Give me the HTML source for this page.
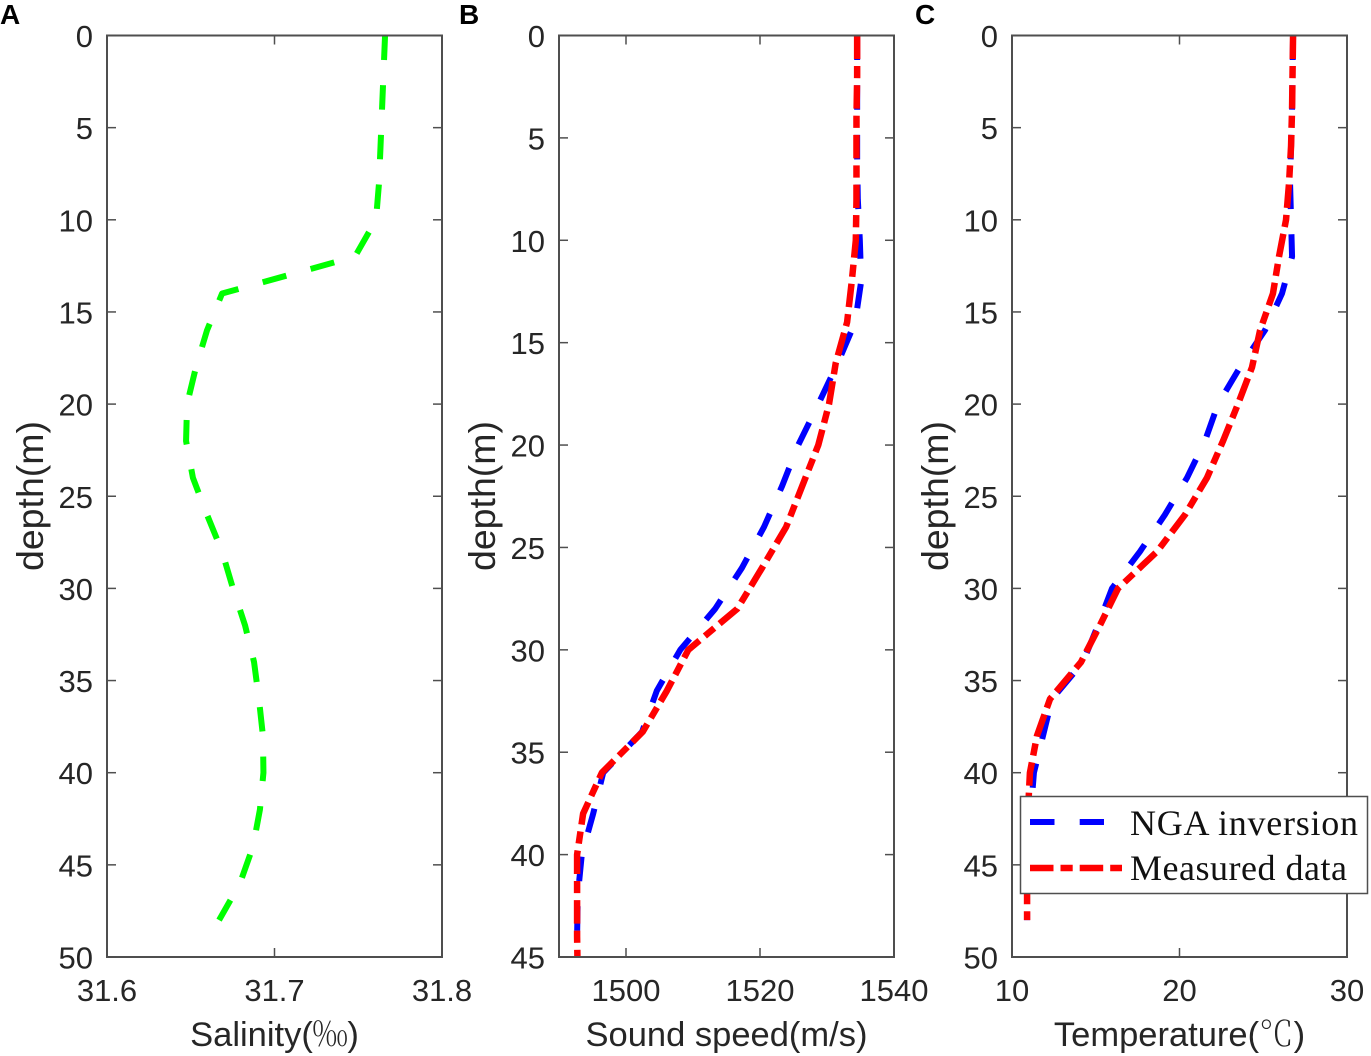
<!DOCTYPE html>
<html>
<head>
<meta charset="utf-8">
<title>Depth profiles</title>
<style>
html,body{margin:0;padding:0;background:#fff;width:1371px;height:1056px;overflow:hidden}
svg{display:block}
text{font-family:"Liberation Sans",Arial,sans-serif;fill:#262626}
</style>
</head>
<body>
<svg id="chart" width="1371" height="1056" viewBox="0 0 1371 1056" xmlns="http://www.w3.org/2000/svg"></svg>
<script>
var depths = [0,2,4,6,8,10,12,14,16,18,20,22,24,26,28,30,32,34,36,38,40,42,44,46,48];

var salinity = [31.766,31.7651,31.7642,31.7633,31.7624,31.7606,31.748,31.6687,31.6597,31.6531,31.6478,31.6472,31.6513,31.6597,31.6687,31.6752,31.6824,31.6878,31.6907,31.6931,31.6934,31.6913,31.6872,31.6794,31.6669];

var soundInversion = [1534.5,1534.5,1534.5,1534.5,1534.6,1534.9,1535.1,1534.2,1531.6,1528.7,1525.7,1523.3,1520.6,1517.3,1513.3,1508.1,1504.6,1502.4,1496.6,1495.1,1493.4,1492.8,1492.7,1492.7,1492.7];
var soundMeasured = [1534.5,1534.5,1534.4,1534.4,1534.4,1534.3,1533.7,1533.0,1531.3,1530.3,1528.7,1526.3,1523.9,1520.3,1516.6,1509.3,1506.1,1502.5,1496.4,1493.6,1492.7,1492.7,1492.7,1492.8,1492.8];

var tempInversion = [26.78,26.75,26.72,26.66,26.6,26.66,26.72,26.12,25.1,23.61,22.3,21.52,20.45,19.13,17.64,15.97,15.13,14.24,12.39,11.85,11.31,11.13,10.96,10.9,10.9];
var tempMeasured = [26.78,26.75,26.72,26.66,26.54,26.36,25.94,25.58,24.81,24.33,23.49,22.6,21.64,20.33,18.66,16.33,15.25,14.12,12.27,11.49,11.07,10.96,10.9,10.9,10.9];

var salinityTicks = ['31.6','31.7','31.8'];
var soundTicks = ['1500','1520','1540'];
var tempTicks = ['10','20','30'];
var depthTicks50 = ['0','5','10','15','20','25','30','35','40','45','50'];
var depthTicks45 = ['0','5','10','15','20','25','30','35','40','45'];

var legendLabels = ['NGA inversion','Measured data'];

var svg = document.getElementById('chart');
var NS = 'http://www.w3.org/2000/svg';
var AXIS = '#4f4f4f';
var TOP = 35.5, BOTTOM = 957;
var DASH = '24.5 25.2';
var DASHDOT = '23.5 7 12.2 7';

function mk(parent, tag, attrs, txt) {
  var el = document.createElementNS(NS, tag);
  for (var k in attrs) el.setAttribute(k, attrs[k]);
  if (txt !== undefined) el.textContent = txt;
  parent.appendChild(el);
  return el;
}

function drawPanel(cfg) {
  var g = mk(svg, 'g', {});
  
  

  function xs(v) { return cfg.left + (v - cfg.xMin) / (cfg.xMax - cfg.xMin) * (cfg.right - cfg.left); }
  function ys(d) { return TOP + (d - 0) / cfg.depthMax * (BOTTOM - TOP); }

  var clipId = cfg.name + '-clip';
  var defs = mk(g, 'defs', {});
  var cp = mk(defs, 'clipPath', {id: clipId});
  mk(cp, 'rect', {x: cfg.left, y: TOP, width: cfg.right - cfg.left, height: BOTTOM - TOP});

  cfg.series.forEach(function (s) {
    var pts = depths.map(function (d, i) { return xs(s.values[i]).toFixed(2) + ',' + ys(d).toFixed(2); }).join(' ');
    var line = mk(g, 'polyline', {points: pts, fill: 'none', stroke: s.color, 'stroke-width': s.width, 'stroke-dasharray': s.dash, 'stroke-linejoin': 'round', 'clip-path': 'url(#' + clipId + ')'});
    
    
  });

  var box = mk(g, 'rect', {x: cfg.left, y: TOP, width: cfg.right - cfg.left, height: BOTTOM - TOP, fill: 'none', stroke: AXIS, 'stroke-width': 2});
  
  

  cfg.xLabels.forEach(function (t) {
    var v = parseFloat(t), x = xs(v);
    var tickTop = mk(g, 'line', {x1: x, x2: x, y1: TOP, y2: TOP + 9, stroke: AXIS, 'stroke-width': 1.5});
    
    
    var tickBot = mk(g, 'line', {x1: x, x2: x, y1: BOTTOM, y2: BOTTOM - 9, stroke: AXIS, 'stroke-width': 1.5});
    
    
    var lab = mk(g, 'text', {x: x, y: 1001, 'text-anchor': 'middle', 'font-size': 31}, t);
    
    
  });

  cfg.yLabels.forEach(function (t) {
    var y = ys(parseFloat(t));
    var tickL = mk(g, 'line', {x1: cfg.left, x2: cfg.left + 9, y1: y, y2: y, stroke: AXIS, 'stroke-width': 1.5});
    
    
    var tickR = mk(g, 'line', {x1: cfg.right, x2: cfg.right - 9, y1: y, y2: y, stroke: AXIS, 'stroke-width': 1.5});
    
    
    var lab = mk(g, 'text', {x: cfg.left - 14, y: y + 11.5, 'text-anchor': 'end', 'font-size': 31}, t);
    
    
  });

  var yx = cfg.left - 64, yy = 496;
  var yTitle = mk(g, 'text', {x: yx, y: yy, 'text-anchor': 'middle', 'font-size': 37.5, transform: 'rotate(-90 ' + yx + ' ' + yy + ')'}, 'depth(m)');
  
  

  var xTitle = mk(g, 'text', {x: (cfg.left + cfg.right) / 2, y: 1046, 'text-anchor': 'middle', 'font-size': 34.5});
  
  
  cfg.title.forEach(function (part) {
    var attrs = {};
    if (part.serif) { attrs['font-family'] = '"Noto Serif CJK SC","Liberation Serif",serif'; attrs['font-weight'] = 200; }
    mk(xTitle, 'tspan', attrs, part.t);
  });

  var letter = mk(svg, 'text', {x: cfg.letterX, y: 24, 'font-size': 28, 'font-weight': 'bold', style: 'fill:#000'}, cfg.letter);
  
  
}

drawPanel({
  name: 'salinity-panel', letter: 'A', letterX: 0, left: 107, right: 442,
  xMin: 31.6, xMax: 31.8, depthMax: 50,
  xLabels: salinityTicks, yLabels: depthTicks50,
  title: [{t: 'Salinity('}, {t: '‰', serif: true}, {t: ')'}],
  series: [{values: salinity, color: '#00ff00', width: 6, dash: DASH}]
});

drawPanel({
  name: 'sound-speed-panel', letter: 'B', letterX: 459, left: 559, right: 894,
  xMin: 1490, xMax: 1540, depthMax: 45,
  xLabels: soundTicks, yLabels: depthTicks45,
  title: [{t: 'Sound speed(m/s)'}],
  series: [
    {values: soundInversion, color: '#0000ff', width: 6, dash: DASH},
    {values: soundMeasured, color: '#ff0000', width: 6.5, dash: DASHDOT}
  ]
});

drawPanel({
  name: 'temperature-panel', letter: 'C', letterX: 915, left: 1012, right: 1347,
  xMin: 10, xMax: 30, depthMax: 50,
  xLabels: tempTicks, yLabels: depthTicks50,
  title: [{t: 'Temperature('}, {t: '℃', serif: true}, {t: ')'}],
  series: [
    {values: tempInversion, color: '#0000ff', width: 6, dash: DASH},
    {values: tempMeasured, color: '#ff0000', width: 6.5, dash: DASHDOT}
  ]
});

var legend = mk(svg, 'g', {});


mk(legend, 'rect', {x: 1020.5, y: 796.5, width: 347, height: 97, fill: '#fff', stroke: AXIS, 'stroke-width': 1.5});

var entry1 = mk(legend, 'g', {});


mk(entry1, 'line', {x1: 1030, x2: 1104, y1: 822, y2: 822, stroke: '#0000ff', 'stroke-width': 6, 'stroke-dasharray': DASH});
mk(entry1, 'text', {x: 1130, y: 835, 'font-size': 36, textLength: 228, lengthAdjust: 'spacing', style: 'font-family:\"Liberation Serif\",serif;fill:#111'}, legendLabels[0]);

var entry2 = mk(legend, 'g', {});


mk(entry2, 'line', {x1: 1030, x2: 1122, y1: 868, y2: 868, stroke: '#ff0000', 'stroke-width': 6.5, 'stroke-dasharray': DASHDOT});
mk(entry2, 'text', {x: 1130, y: 880, 'font-size': 36, textLength: 217, lengthAdjust: 'spacing', style: 'font-family:\"Liberation Serif\",serif;fill:#111'}, legendLabels[1]);
</script>
</body>
</html>
